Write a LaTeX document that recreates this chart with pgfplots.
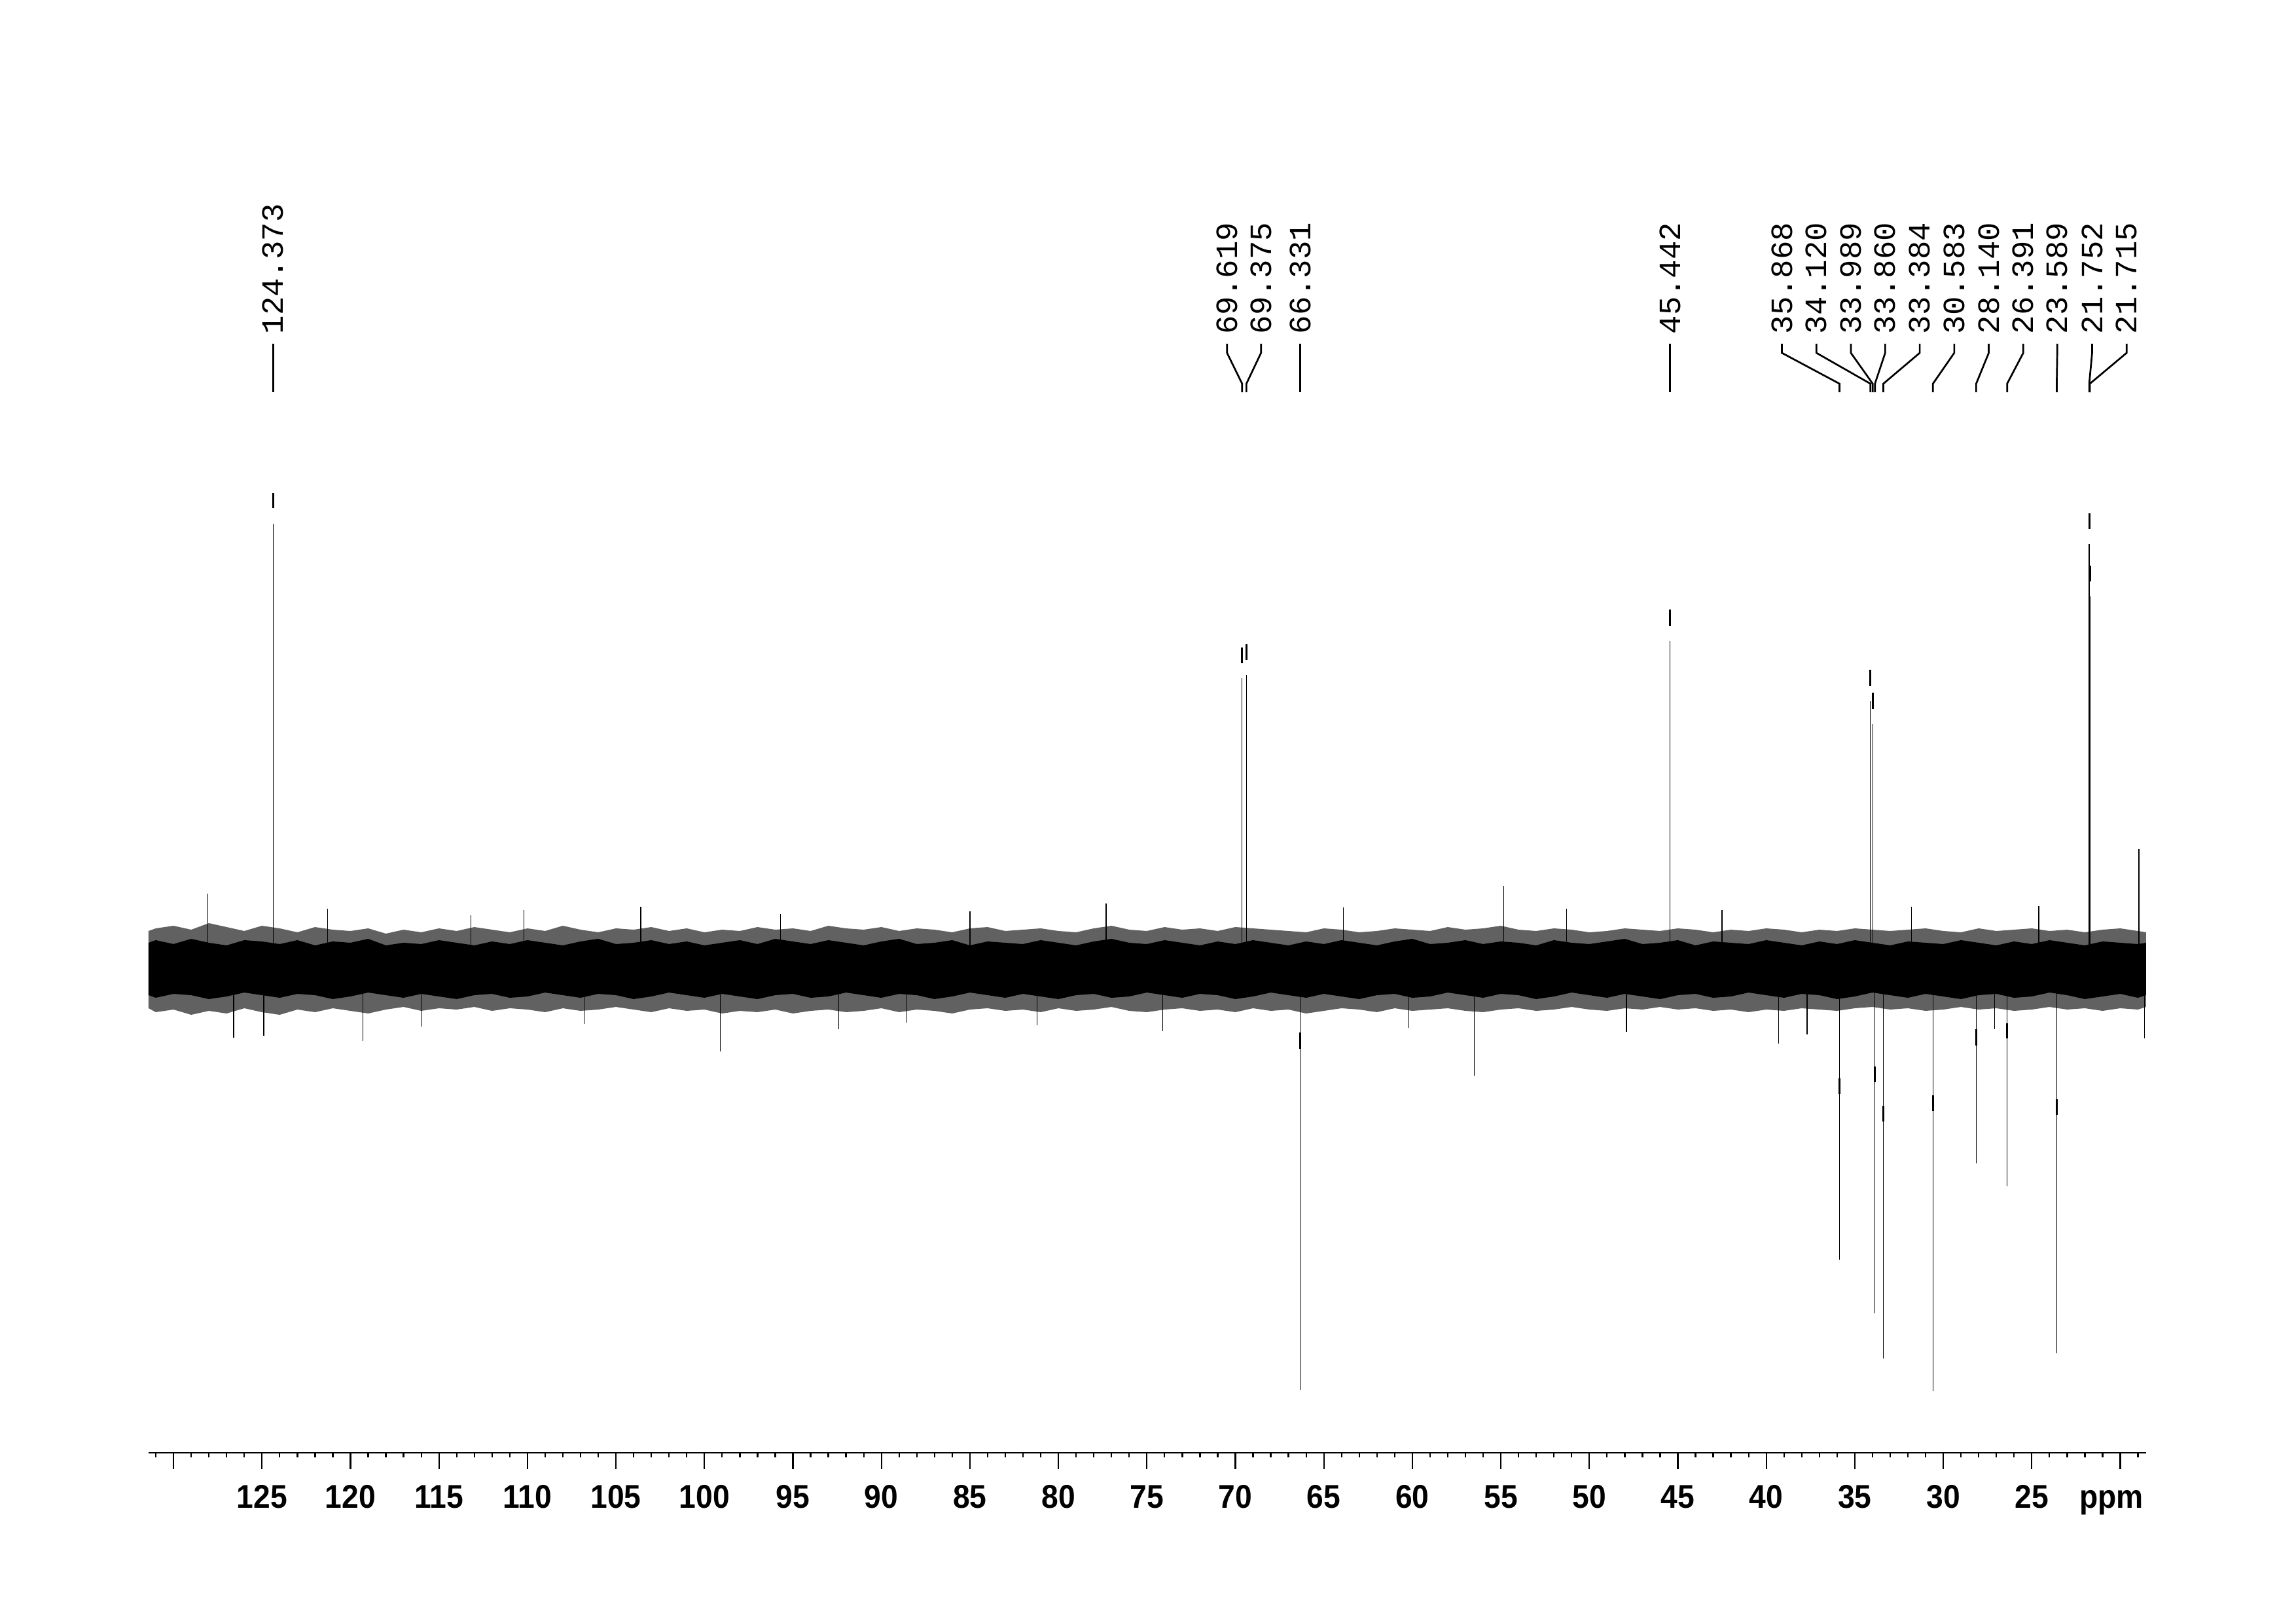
\documentclass[border=0pt]{standalone}
\usepackage{pgfplots}
\pgfplotsset{compat=1.18}
\usepackage{fontspec}
\newfontfamily\tickfont[FakeStretch=0.92]{Liberation Sans}
\newfontfamily\monofont{Liberation Mono}
\newcommand\conn[2]{\draw[line width=0.65pt] (axis cs:#1,955) -- (axis cs:#1,941) -- (axis cs:#2,894) -- (axis cs:#2,881);}
\newcommand\plab[2]{\node[rotate=90, anchor=west, inner sep=0pt, font=\monofont\fontsize{11.4}{13}\selectfont] at (axis cs:#1,969) {#2};}
\begin{document}
\begin{tikzpicture}
\path[use as bounding box] (0,0) rectangle (29.701cm,20.989cm);
\begin{axis}[
  at={(1.9219cm,2.2013cm)}, anchor=south west,
  scale only axis, width=25.840cm, height=18.787cm,
  x dir=reverse, xmin=18.54, xmax=131.41, ymin=-739, ymax=1480,
  axis x line=bottom, axis y line=none,
  x axis line style={-, line width=0.65pt},
  clip=false,
  tick align=outside,
  xtick={20,25,...,130},
  xticklabels={,25,30,35,40,45,50,55,60,65,70,75,80,85,90,95,100,105,110,115,120,125,},
  minor xtick={19,20,...,131},
  major tick length=0.2117cm, minor tick length=0.0593cm,
  every tick/.style={black, line width=0.55pt},
  /pgf/number format/assume math mode=true,
  xticklabel style={font=\tickfont\bfseries\fontsize{12.1}{14}\selectfont, anchor=base, inner sep=0pt, yshift=-0.50cm},
]
% noise band: outer fringe envelope
\addplot[draw=none, fill=black!62] coordinates {
(131.41,58)(131,62)(130,66)(129,60)(128,70)(127,64)(126,58)(125,66)(124,62)(123,56)(122,64)(121,60)(120,58)(119,62)(118,54)(117,60)(116,56)(115,62)(114,58)(113,64)(112,60)(111,56)(110,62)(109,58)(108,66)(107,60)(106,56)(105,62)(104,60)(103,64)(102,58)(101,62)(100,56)(99,60)(98,58)(97,64)(96,60)(95,62)(94,58)(93,66)(92,62)(91,60)(90,64)(89,58)(88,62)(87,60)(86,56)(85,62)(84,64)(83,58)(82,60)(81,62)(80,58)(79,56)(78,62)(77,66)(76,60)(75,58)(74,64)(73,60)(72,62)(71,58)(70,64)(69,62)(68,60)(67,58)(66,56)(65,62)(64,60)(63,56)(62,58)(61,62)(60,60)(59,58)(58,64)(57,60)(56,62)(55,66)(54,60)(53,58)(52,62)(51,60)(50,56)(49,58)(48,62)(47,60)(46,58)(45,62)(44,60)(43,56)(42,60)(41,58)(40,62)(39,60)(38,56)(37,60)(36,58)(35,62)(34,60)(33,58)(32,60)(31,62)(30,58)(29,56)(28,62)(27,58)(26,60)(25,62)(24,58)(23,60)(22,56)(21,60)(20,62)(19,58)(18.54,56)
(18.54,-58)(19,-62)(20,-60)(21,-64)(22,-60)(23,-62)(24,-58)(25,-62)(26,-64)(27,-60)(28,-62)(29,-58)(30,-62)(31,-64)(32,-60)(33,-62)(34,-58)(35,-60)(36,-64)(37,-62)(38,-60)(39,-64)(40,-62)(41,-66)(42,-62)(43,-64)(44,-60)(45,-62)(46,-58)(47,-62)(48,-60)(49,-64)(50,-62)(51,-58)(52,-62)(53,-64)(54,-60)(55,-62)(56,-66)(57,-64)(58,-60)(59,-62)(60,-64)(61,-60)(62,-66)(63,-62)(64,-60)(65,-64)(66,-68)(67,-62)(68,-64)(69,-60)(70,-66)(71,-62)(72,-64)(73,-60)(74,-62)(75,-66)(76,-64)(77,-58)(78,-62)(79,-64)(80,-60)(81,-66)(82,-62)(83,-64)(84,-60)(85,-62)(86,-68)(87,-64)(88,-62)(89,-66)(90,-60)(91,-64)(92,-66)(93,-62)(94,-64)(95,-68)(96,-62)(97,-66)(98,-64)(99,-68)(100,-62)(101,-64)(102,-60)(103,-66)(104,-62)(105,-58)(106,-62)(107,-64)(108,-60)(109,-66)(110,-62)(111,-60)(112,-64)(113,-58)(114,-62)(115,-60)(116,-64)(117,-58)(118,-62)(119,-68)(120,-64)(121,-60)(122,-66)(123,-62)(124,-70)(125,-66)(126,-60)(127,-68)(128,-64)(129,-70)(130,-62)(131,-66)(131.41,-60)
} -- cycle;
% noise band: dense core
\addplot[draw=none, fill=black] coordinates {
(131.41,40)(131,44)(130,38)(129,46)(128,40)(127,36)(126,44)(125,42)(124,38)(123,44)(122,36)(121,42)(120,40)(119,46)(118,36)(117,40)(116,38)(115,44)(114,40)(113,36)(112,42)(111,38)(110,44)(109,40)(108,36)(107,42)(106,46)(105,38)(104,40)(103,44)(102,38)(101,42)(100,36)(99,40)(98,44)(97,38)(96,46)(95,42)(94,38)(93,44)(92,40)(91,36)(90,42)(89,46)(88,38)(87,40)(86,44)(85,36)(84,42)(83,40)(82,38)(81,44)(80,40)(79,36)(78,42)(77,46)(76,40)(75,38)(74,44)(73,40)(72,36)(71,42)(70,38)(69,44)(68,40)(67,36)(66,42)(65,38)(64,44)(63,40)(62,36)(61,42)(60,46)(59,38)(58,40)(57,44)(56,38)(55,42)(54,40)(53,36)(52,44)(51,40)(50,38)(49,42)(48,46)(47,38)(46,40)(45,44)(44,36)(43,42)(42,40)(41,38)(40,44)(39,40)(38,36)(37,42)(36,38)(35,44)(34,40)(33,36)(32,42)(31,40)(30,38)(29,44)(28,40)(27,36)(26,42)(25,38)(24,44)(23,40)(22,36)(21,42)(20,40)(19,38)(18.54,40)
(18.54,-40)(19,-44)(20,-38)(21,-42)(22,-46)(23,-40)(24,-36)(25,-42)(26,-44)(27,-38)(28,-40)(29,-46)(30,-42)(31,-38)(32,-44)(33,-40)(34,-36)(35,-42)(36,-46)(37,-40)(38,-38)(39,-44)(40,-40)(41,-36)(42,-42)(43,-44)(44,-38)(45,-40)(46,-46)(47,-42)(48,-38)(49,-44)(50,-40)(51,-36)(52,-42)(53,-46)(54,-40)(55,-38)(56,-44)(57,-40)(58,-36)(59,-42)(60,-44)(61,-38)(62,-40)(63,-46)(64,-42)(65,-38)(66,-44)(67,-40)(68,-36)(69,-42)(70,-46)(71,-40)(72,-38)(73,-44)(74,-40)(75,-36)(76,-42)(77,-44)(78,-38)(79,-40)(80,-46)(81,-42)(82,-38)(83,-44)(84,-40)(85,-36)(86,-42)(87,-46)(88,-40)(89,-38)(90,-44)(91,-40)(92,-36)(93,-42)(94,-44)(95,-38)(96,-40)(97,-46)(98,-42)(99,-38)(100,-44)(101,-40)(102,-36)(103,-42)(104,-46)(105,-40)(106,-38)(107,-44)(108,-40)(109,-36)(110,-42)(111,-44)(112,-38)(113,-40)(114,-46)(115,-42)(116,-38)(117,-44)(118,-40)(119,-36)(120,-42)(121,-46)(122,-40)(123,-38)(124,-44)(125,-40)(126,-36)(127,-42)(128,-46)(129,-40)(130,-38)(131,-44)(131.41,-40)
} -- cycle;
% isolated noise spikes
\addplot[black, line width=0.3pt, unbounded coords=jump] coordinates {
(128.05,0)(128.05,115)(128.05,nan)
(126.6,0)(126.6,-105)(126.6,nan)
(124.9,0)(124.9,-102)(124.9,nan)
(121.3,0)(121.3,92)(121.3,nan)
(119.3,0)(119.3,-110)(119.3,nan)
(116.0,0)(116.0,-88)(116.0,nan)
(113.2,0)(113.2,82)(113.2,nan)
(110.2,0)(110.2,90)(110.2,nan)
(106.8,0)(106.8,-84)(106.8,nan)
(103.6,0)(103.6,95)(103.6,nan)
(99.1,0)(99.1,-126)(99.1,nan)
(95.7,0)(95.7,84)(95.7,nan)
(92.4,0)(92.4,-92)(92.4,nan)
(88.6,0)(88.6,-82)(88.6,nan)
(85.0,0)(85.0,88)(85.0,nan)
(81.2,0)(81.2,-86)(81.2,nan)
(77.3,0)(77.3,100)(77.3,nan)
(74.1,0)(74.1,-95)(74.1,nan)
(63.9,0)(63.9,94)(63.9,nan)
(60.2,0)(60.2,-90)(60.2,nan)
(56.5,0)(56.5,-163)(56.5,nan)
(54.84,0)(54.84,127)(54.84,nan)
(51.3,0)(51.3,92)(51.3,nan)
(47.9,0)(47.9,-96)(47.9,nan)
(42.5,0)(42.5,90)(42.5,nan)
(39.3,0)(39.3,-114)(39.3,nan)
(37.7,0)(37.7,-100)(37.7,nan)
(31.8,0)(31.8,95)(31.8,nan)
(27.1,0)(27.1,-92)(27.1,nan)
(24.6,0)(24.6,96)(24.6,nan)
(18.95,0)(18.95,183)(18.95,nan)
(18.64,0)(18.64,-106)(18.64,nan)
};
% peaks
\addplot[black, line width=0.3pt, unbounded coords=jump] coordinates {
(124.373,0)(124.373,680)(124.373,nan)
(69.619,0)(69.619,444)(69.619,nan)
(69.375,0)(69.375,449)(69.375,nan)
(66.331,0)(66.331,-643)(66.331,nan)
(45.442,0)(45.442,501)(45.442,nan)
(35.868,0)(35.868,-444)(35.868,nan)
(34.120,0)(34.120,409)(34.120,nan)
(33.989,0)(33.989,374)(33.989,nan)
(33.860,0)(33.860,-526)(33.860,nan)
(33.384,0)(33.384,-595)(33.384,nan)
(30.583,0)(30.583,-645)(30.583,nan)
(28.140,0)(28.140,-297)(28.140,nan)
(26.391,0)(26.391,-332)(26.391,nan)
(23.589,0)(23.589,-587)(23.589,nan)
(21.752,0)(21.752,649)(21.752,nan)
(21.715,0)(21.715,569)(21.715,nan)
};
% peak-pick markers
\addplot[black, line width=0.75pt, unbounded coords=jump] coordinates {
(124.373,704)(124.373,727)(124.373,nan)
(69.619,467)(69.619,491)(69.619,nan)
(69.375,472)(69.375,496)(69.375,nan)
(66.331,-97)(66.331,-122)(66.331,nan)
(45.442,524)(45.442,549)(45.442,nan)
(35.868,-167)(35.868,-191)(35.868,nan)
(34.120,432)(34.120,457)(34.120,nan)
(33.989,397)(33.989,422)(33.989,nan)
(33.860,-149)(33.860,-173)(33.860,nan)
(33.384,-209)(33.384,-233)(33.384,nan)
(30.583,-193)(30.583,-217)(30.583,nan)
(28.140,-92)(28.140,-117)(28.140,nan)
(26.391,-83)(26.391,-106)(26.391,nan)
(23.589,-199)(23.589,-223)(23.589,nan)
(21.752,672)(21.752,696)(21.752,nan)
(21.715,592)(21.715,616)(21.715,nan)
};
% label connectors
\conn{124.373}{124.373}
\conn{70.47}{69.619}
\conn{68.55}{69.375}
\conn{66.331}{66.331}
\conn{45.442}{45.442}
\conn{39.12}{35.868}
\conn{37.17}{34.120}
\conn{35.22}{33.989}
\conn{33.28}{33.860}
\conn{31.33}{33.384}
\conn{29.38}{30.583}
\conn{27.43}{28.140}
\conn{25.48}{26.391}
\conn{23.56}{23.589}
\conn{21.59}{21.752}
\conn{19.64}{21.715}
% peak labels
\plab{124.373}{124.373}
\plab{70.47}{69.619}
\plab{68.55}{69.375}
\plab{66.331}{66.331}
\plab{45.442}{45.442}
\plab{39.12}{35.868}
\plab{37.17}{34.120}
\plab{35.22}{33.989}
\plab{33.28}{33.860}
\plab{31.33}{33.384}
\plab{29.38}{30.583}
\plab{27.43}{28.140}
\plab{25.48}{26.391}
\plab{23.56}{23.589}
\plab{21.59}{21.752}
\plab{19.64}{21.715}
\node[anchor=base, inner sep=0pt, font=\tickfont\bfseries\fontsize{12.1}{14}\selectfont] at (axis cs:20.5,-823) {ppm};
\end{axis}
\end{tikzpicture}
\end{document}
